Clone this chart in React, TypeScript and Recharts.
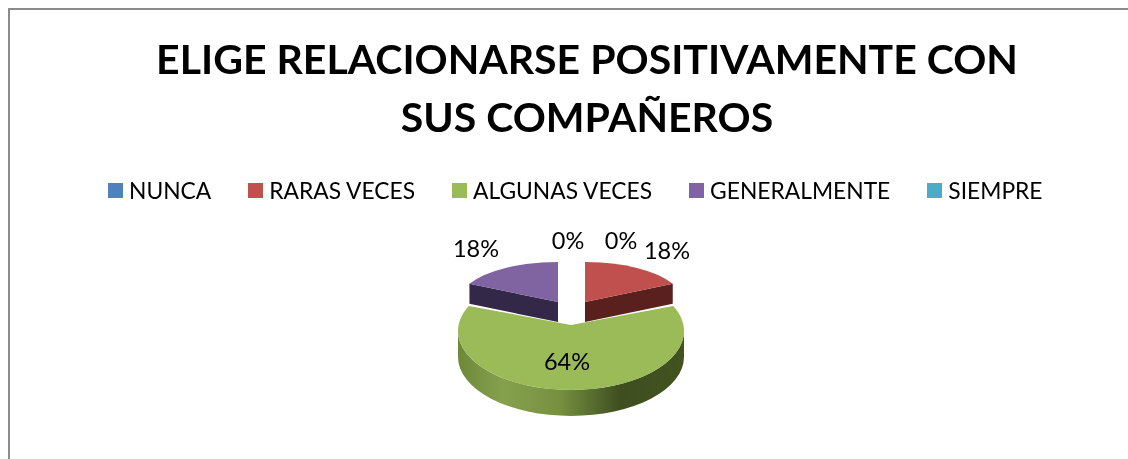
import React from "react";
import { PieChart, Pie, Legend } from "recharts";

const titleLines = ["ELIGE RELACIONARSE POSITIVAMENTE CON", "SUS COMPAÑEROS"];
const categories = ["NUNCA", "RARAS VECES", "ALGUNAS VECES", "GENERALMENTE", "SIEMPRE"];
const values = [0, 18, 64, 18, 0];
const colors = ["#4f81bd", "#c0504d", "#9bbb59", "#8064a2", "#4bacc6"];
const sideColors = ["#2a4566", "#5a201e", "url(#greenWall)", "#332847", "#235a68"];

const font = "Lato, sans-serif";
const rows = categories.map((name, i) => ({ name, value: values[i], fill: colors[i] }));

// How each exploded, tilted slice sits relative to the pie centre.
const sliceViews = [
  { dx: 0, dy: 0, scale: 1, ry: 0.4, apexDy: 0, depth: 20 },
  { dx: 14, dy: -31, scale: 0.858, ry: 0.336, apexDy: 2, depth: 20 },
  { dx: 0, dy: 0, scale: 1, ry: 0.522, apexDy: -6, depth: 26 },
  { dx: -13, dy: -31, scale: 0.866, ry: 0.336, apexDy: 2, depth: 20 },
  { dx: 0, dy: 0, scale: 1, ry: 0.4, apexDy: 0, depth: 20 },
];
const labelAnchors = [
  { x: 560, y: 241 },
  { x: 659, y: 251 },
  { x: 559, y: 362 },
  { x: 468, y: 249 },
  { x: 613, y: 241 },
];

const RAD = Math.PI / 180;

function TiltedSlice(props: any) {
  const { cx, cy, outerRadius, startAngle, endAngle, fill, index, name } = props;
  const i = index ?? categories.indexOf(name);
  if (values[i] === 0) return null;
  const v = sliceViews[i];
  const rx = outerRadius * v.scale;
  const ry = outerRadius * v.ry;
  const x0 = cx + v.dx;
  const y0 = cy + v.dy;
  const pt = (a: number) => [x0 + rx * Math.cos(a * RAD), y0 - ry * Math.sin(a * RAD)];
  const [sx, sy] = pt(startAngle);
  const [ex, ey] = pt(endAngle);
  const ax = x0;
  const ay = y0 + v.apexDy;
  const large = Math.abs(startAngle - endAngle) > 180 ? 1 : 0;
  const top = `M${ax},${ay} L${sx},${sy} A${rx},${ry} 0 ${large} 1 ${ex},${ey} Z`;
  let side: React.ReactNode = null;
  if (large) {
    side = (
      <path
        d={`M${x0 + rx},${y0} A${rx},${ry} 0 0 1 ${x0 - rx},${y0} L${x0 - rx},${y0 + v.depth} A${rx},${ry} 0 0 0 ${x0 + rx},${y0 + v.depth} Z`}
        fill={sideColors[i]}
      />
    );
  } else {
    const [fx, fy] = endAngle > 0 ? [ex, ey] : [sx, sy];
    side = (
      <path
        d={`M${ax},${ay} L${fx},${fy} L${fx},${fy + v.depth} L${ax},${ay + v.depth} Z`}
        fill={sideColors[i]}
      />
    );
  }
  return (
    <g>
      {side}
      <path d={top} fill={fill} />
    </g>
  );
}

function SliceLabel(props: any) {
  const { index, value } = props;
  const a = labelAnchors[index];
  return (
    <text x={a.x} y={a.y} textAnchor="middle" fontFamily={font} fontSize={23.5} fill="#000">
      {`${value}%`}
    </text>
  );
}

function LegendRow({ payload }: any) {
  return (
    <div style={{ display: "flex", gap: 37, justifyContent: "flex-start", fontFamily: font, fontSize: 22.8, color: "#000", lineHeight: "26px" }}>
      {(payload ?? []).map((p: any) => (
        <div key={p.value} style={{ display: "flex", alignItems: "center", gap: 6, whiteSpace: "nowrap" }}>
          <span style={{ display: "inline-block", width: 15, height: 15, background: p.color }} />
          <span>{p.value}</span>
        </div>
      ))}
    </div>
  );
}

export default function App() {
  return (
    <div style={{ position: "fixed", left: 8, top: 8, width: 1120, height: 451, overflow: "hidden" }}>
      <div style={{ position: "absolute", left: 0, top: 0, right: 0, height: 2, background: "#8c8c8c" }} />
      <div style={{ position: "absolute", left: 0, top: 0, bottom: 0, width: 2, background: "#8c8c8c" }} />
      {titleLines.map((line, i) => (
        <div
          key={line}
          style={{
            position: "absolute",
            left: 100,
            width: 958,
            top: 22 + i * 58,
            textAlign: "center",
            fontFamily: font,
            fontWeight: 700,
            fontSize: 41,
            lineHeight: "58px",
            color: "#000",
            whiteSpace: "nowrap",
          }}
        >
          {line}
        </div>
      ))}
      <PieChart width={1120} height={451} margin={{ top: 0, right: 0, bottom: 0, left: 0 }} style={{ position: "absolute", left: 0, top: 0 }}>
        <defs>
          <linearGradient id="greenWall" x1="0" y1="0" x2="1" y2="0">
            <stop offset="0" stopColor="#6d8838" />
            <stop offset="0.2" stopColor="#86a14e" />
            <stop offset="0.45" stopColor="#76903f" />
            <stop offset="0.72" stopColor="#3e4e20" />
            <stop offset="1" stopColor="#42531f" />
          </linearGradient>
        </defs>
        <Pie
          data={rows}
          dataKey="value"
          nameKey="name"
          cx={563}
          cy={297}
          outerRadius={113}
          startAngle={90}
          endAngle={-270}
          stroke="none"
          isAnimationActive={false}
          shape={TiltedSlice}
          label={SliceLabel}
          labelLine={false}
        />
        <Legend
          content={LegendRow}
          itemSorter={null}
          layout="horizontal"
          verticalAlign="top"
          align="left"
          wrapperStyle={{ position: "absolute", left: 100, top: 169, width: 1000 }}
        />
      </PieChart>
    </div>
  );
}
